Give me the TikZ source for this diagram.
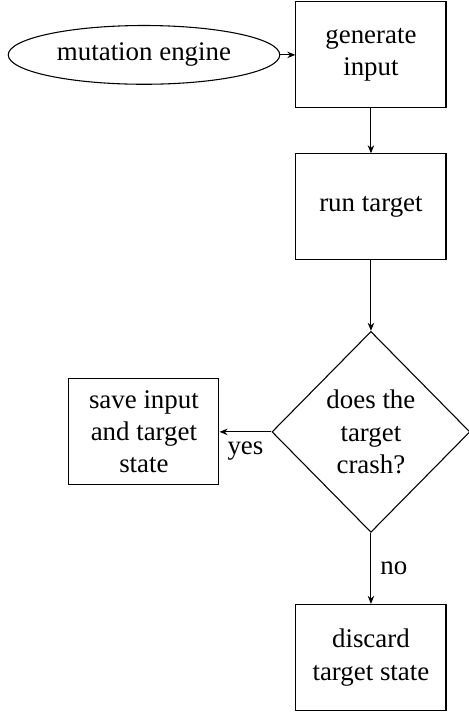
\documentclass[tikz,border=0pt]{standalone}
\usepackage{fontspec}
\setmainfont{Liberation Serif}
\usetikzlibrary{
    positioning,
    arrows.meta,
    shapes.geometric
}

\begin{document}
\begin{tikzpicture}[
        block/.style={draw, rectangle, minimum width=55.8pt, minimum height=39.4pt, align=center},
        decision/.style={draw, diamond, aspect=1, minimum width=73.6pt, minimum height=74.7pt, inner sep=0pt, align=center},
        engine/.style={draw, ellipse},
        >={Stealth[length=3pt, width=2.4pt]}
    ]
            \useasboundingbox (-137.9pt,20.4pt) rectangle (36.4pt,-245.4pt);

            \node[block] (gen) at (0,0) {generate\\input};
            \node[engine, left=5.6pt of gen] (mut) {mutation engine};
            \node[block, below=16.7pt of gen] (run) {run target};
            \node[decision, below=26.2pt of run] (crash) {does the\\target\\crash?};
            \node[block, left=19.3pt of crash] (save) {save input\\and target\\state};
            \node[block, below=26.4pt of crash] (discard) {discard\\target state};

            \draw[->] (mut)--(gen);
            \draw[->] (gen)--(run);
            \draw[->] (run)--(crash);
            % branches
            \draw[->] (crash)--(save) node[midway, below] {yes};
            \draw[->] (crash)--(discard) node[midway, right] {no};
        \end{tikzpicture}
\end{document}
